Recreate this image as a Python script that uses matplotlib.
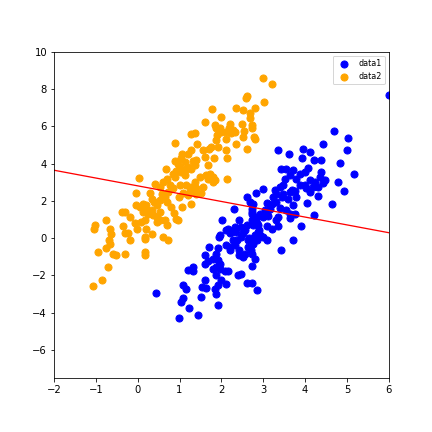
import numpy as np
import matplotlib
matplotlib.use("Agg")
import matplotlib.pyplot as plt

# class 1 (blue)
data1_x = [6.00, 4.69, 5.03, 5.00, 4.43, 3.95, 4.11, 3.62, 3.35, 3.92, 4.21, 4.37,
           4.83, 5.17, 4.78, 4.93, 4.65, 4.22, 3.91, 3.71, 3.42, 4.07, 3.99, 3.87,
           3.71, 3.55, 3.43, 3.63, 3.79, 3.51, 3.87, 3.99, 4.11, 4.23, 4.35, 4.47,
           4.39, 4.43, 4.31, 4.19, 4.11, 4.03, 4.31, 4.05, 3.79, 3.63, 3.69, 3.77,
           3.47, 3.39, 3.27, 3.31, 3.47, 3.45, 3.24, 3.00, 2.82, 2.61, 2.68, 3.31,
           3.20, 3.08, 3.71, 3.55, 3.63, 3.75, 3.63, 3.35, 3.31, 3.35, 3.20, 3.08,
           3.16, 3.04, 3.08, 3.00, 2.92, 2.84, 2.72, 2.74, 2.74, 2.76, 2.84, 2.88,
           2.60, 2.48, 2.56, 2.52, 2.46, 2.36, 2.32, 2.41, 2.30, 2.02, 2.16, 2.10,
           2.20, 1.96, 1.94, 2.28, 2.32, 2.20, 2.20, 2.12, 2.42, 2.43, 2.56, 2.64,
           2.72, 2.76, 2.84, 2.92, 3.00, 3.08, 2.88, 2.80, 2.70, 2.74, 2.80, 2.52,
           2.64, 2.38, 1.92, 1.88, 1.71, 1.62, 1.60, 1.68, 1.80, 1.92, 1.96, 1.88,
           1.80, 1.96, 2.08, 2.16, 2.72, 2.40, 2.48, 2.61, 2.74, 2.85, 2.12, 2.00,
           1.88, 1.62, 1.54, 1.64, 1.52, 1.44, 1.23, 0.99, 1.04, 1.08, 1.09, 1.16,
           1.19, 1.31, 1.32, 1.84, 1.88, 1.92, 1.92, 0.43, 2.74, 2.76, 2.28, 2.66,
           2.90, 3.12, 3.40, 3.58]
data1_y = [7.67, 5.74, 5.40, 4.76, 5.03, 4.81, 4.60, 4.54, 4.76, 4.28, 4.22, 4.22,
           4.01, 3.47, 3.02, 2.54, 1.81, 1.27, 0.64, -0.11, -0.61, 3.77, 3.56, 3.47,
           3.65, 3.74, 3.74, 3.38, 3.20, 3.20, 2.84, 2.84, 3.11, 3.02, 3.29, 3.15,
           3.56, 2.97, 2.75, 2.75, 2.49, 2.67, 2.25, 1.90, 2.22, 2.49, 2.61, 2.54,
           2.84, 2.75, 2.58, 2.36, 2.36, 2.22, 2.22, 2.63, 2.40, 2.22, 1.95, 1.95,
           1.86, 1.90, 1.77, 1.50, 1.32, 1.32, 1.09, 1.14, 0.97, 0.64, 0.52, 0.66,
           1.59, 1.50, 1.32, 1.14, 1.32, 1.14, 1.59, 1.32, 0.97, 0.70, 0.79, 0.70,
           0.70, 0.61, 0.43, 0.29, 0.07, 0.34, 0.61, 0.97, 1.59, 0.97, 0.52, 0.43,
           0.29, 0.16, 0.04, -0.11, -0.38, -0.47, -0.64, -0.38, -0.64, -0.91, -0.82, -0.11,
           -0.11, -0.29, -0.11, 0.16, 0.07, -0.11, 0.34, 0.16, -0.64, -0.82, -1.09, -1.00,
           -0.47, -0.11, -0.55, -0.82, -0.47, -0.91, -1.40, -1.22, -1.09, -1.18, -1.36, -1.54,
           -1.63, -1.63, -1.75, -1.75, -1.50, -1.99, -1.93, -2.38, -2.38, -2.79, -2.47, -2.22,
           -1.99, -2.25, -2.61, -2.65, -3.18, -4.13, -3.77, -4.26, -3.42, -3.20, -2.52, -2.70,
           -1.72, -1.54, -1.77, -2.70, -2.97, -2.52, -3.56, -2.92, 1.41, 1.82, 0.40, 0.00,
           0.45, 1.20, 1.60, 2.10]

# class 2 (orange)
data2_x = [-1.07, -0.85, -0.71, -0.95, -1.04, -1.02, -0.75, -0.67, -0.63, -0.69, -0.65, -0.75,
           -0.59, -0.51, -0.30, -0.35, -0.37, -0.31, -0.19, -0.31, -0.23, -0.18, -0.05, 0.03,
           -0.05, -0.07, -0.02, 0.09, 0.05, 0.13, 0.21, 0.21, 0.13, 0.25, 0.17, 0.33,
           0.37, 0.45, 0.45, 0.53, 0.53, 0.21, 0.18, 0.18, 0.33, 0.18, 0.18, 0.61,
           0.73, 0.69, 0.65, 0.92, 0.96, 0.86, 0.80, 0.69, 0.65, 0.53, 0.45, 0.33,
           0.29, 0.41, 0.53, 0.61, 0.69, 0.67, 0.76, 0.73, 0.84, 0.84, 0.92, 0.88,
           1.00, 1.04, 1.08, 1.12, 1.20, 1.07, 1.27, 1.20, 1.16, 1.28, 1.36, 1.40,
           1.48, 1.56, 1.52, 1.40, 1.31, 1.64, 1.72, 1.80, 1.84, 1.68, 1.40, 1.32,
           1.36, 1.28, 1.16, 1.00, 1.12, 0.96, 0.88, 1.07, 1.04, 1.20, 1.28, 1.56,
           1.71, 1.76, 1.62, 1.82, 1.68, 0.88, 1.27, 1.36, 1.42, 3.00, 3.20, 3.02,
           2.60, 2.59, 2.36, 2.52, 2.80, 2.69, 2.68, 1.78, 1.98, 1.62, 1.84, 1.88,
           1.96, 2.20, 2.19, 2.28, 2.24, 2.12, 2.32, 2.50, 2.72, 2.72, 2.54, 2.52,
           2.77, 2.81, 1.86, 2.12, 2.34, 1.92, 2.10, 2.13, 2.61, 2.13, 1.80, 1.98,
           1.90, 0.40, 0.58, 0.98, 1.24]
data2_y = [-2.58, -2.22, -1.52, -0.72, 0.52, 0.70, 1.00, 0.47, 0.25, -0.11, -0.32, -0.50,
           -0.82, -0.91, -0.82, 0.66, 1.38, 1.38, 1.14, 0.29, 0.29, -0.11, 2.45, 3.22,
           1.77, 0.79, 0.47, 0.88, 1.68, 1.86, 1.77, 1.59, 1.41, 1.32, 1.00, 1.50,
           1.23, 1.14, 0.88, 1.41, 0.97, 0.52, 0.07, -0.05, 0.21, -0.73, -0.91, 0.04,
           -0.11, 0.70, 0.97, 1.02, 0.97, 1.36, 1.68, 1.95, 2.22, 2.04, 1.77, 2.13,
           2.40, 2.93, 2.75, 3.02, 3.20, 3.74, 2.84, 2.49, 2.67, 3.47, 3.61, 3.29,
           2.84, 3.56, 2.40, 3.38, 3.83, 1.68, 1.81, 2.31, 2.84, 2.75, 3.02, 2.67,
           3.29, 2.75, 2.40, 2.36, 2.49, 3.38, 3.47, 3.29, 3.11, 3.20, 4.19, 4.15,
           3.92, 3.69, 3.69, 3.83, 4.10, 3.97, 4.15, 4.54, 4.33, 4.54, 4.72, 4.76,
           4.81, 4.87, 4.36, 4.33, 3.95, 5.13, 5.58, 5.65, 5.08, 8.57, 8.30, 7.33,
           7.62, 7.50, 7.01, 6.87, 6.96, 6.73, 6.46, 6.91, 6.51, 6.21, 6.07, 5.89,
           5.94, 6.15, 5.94, 5.83, 5.62, 5.71, 5.71, 6.15, 6.06, 5.94, 5.76, 5.44,
           5.44, 5.30, 5.26, 5.35, 5.08, 4.87, 4.76, 4.31, 4.81, 3.20, 3.02, 5.70,
           5.55, 1.95, 2.35, 2.20, 2.55]

# decision line y = intercept + slope * x
line_x = [-2, 6]
slope = -0.419
intercept = 2.81

fig = plt.figure(figsize=(6, 6), dpi=72)
fig.subplots_adjust(left=0.125, right=0.9, bottom=0.125, top=0.88)
ax = fig.add_subplot(111)

ax.scatter(data1_x, data1_y, c='blue', s=50, label='data1')
ax.scatter(data2_x, data2_y, c='orange', s=50, label='data2')

lx = np.array(line_x)
ax.plot(lx, intercept + slope * lx, color='red', linewidth=1.3)

ax.set_xlim(-2, 6)
ax.set_ylim(-7.5, 10)
ax.legend(loc='upper right', fontsize=8)

fig.savefig('out.png', dpi=72)
